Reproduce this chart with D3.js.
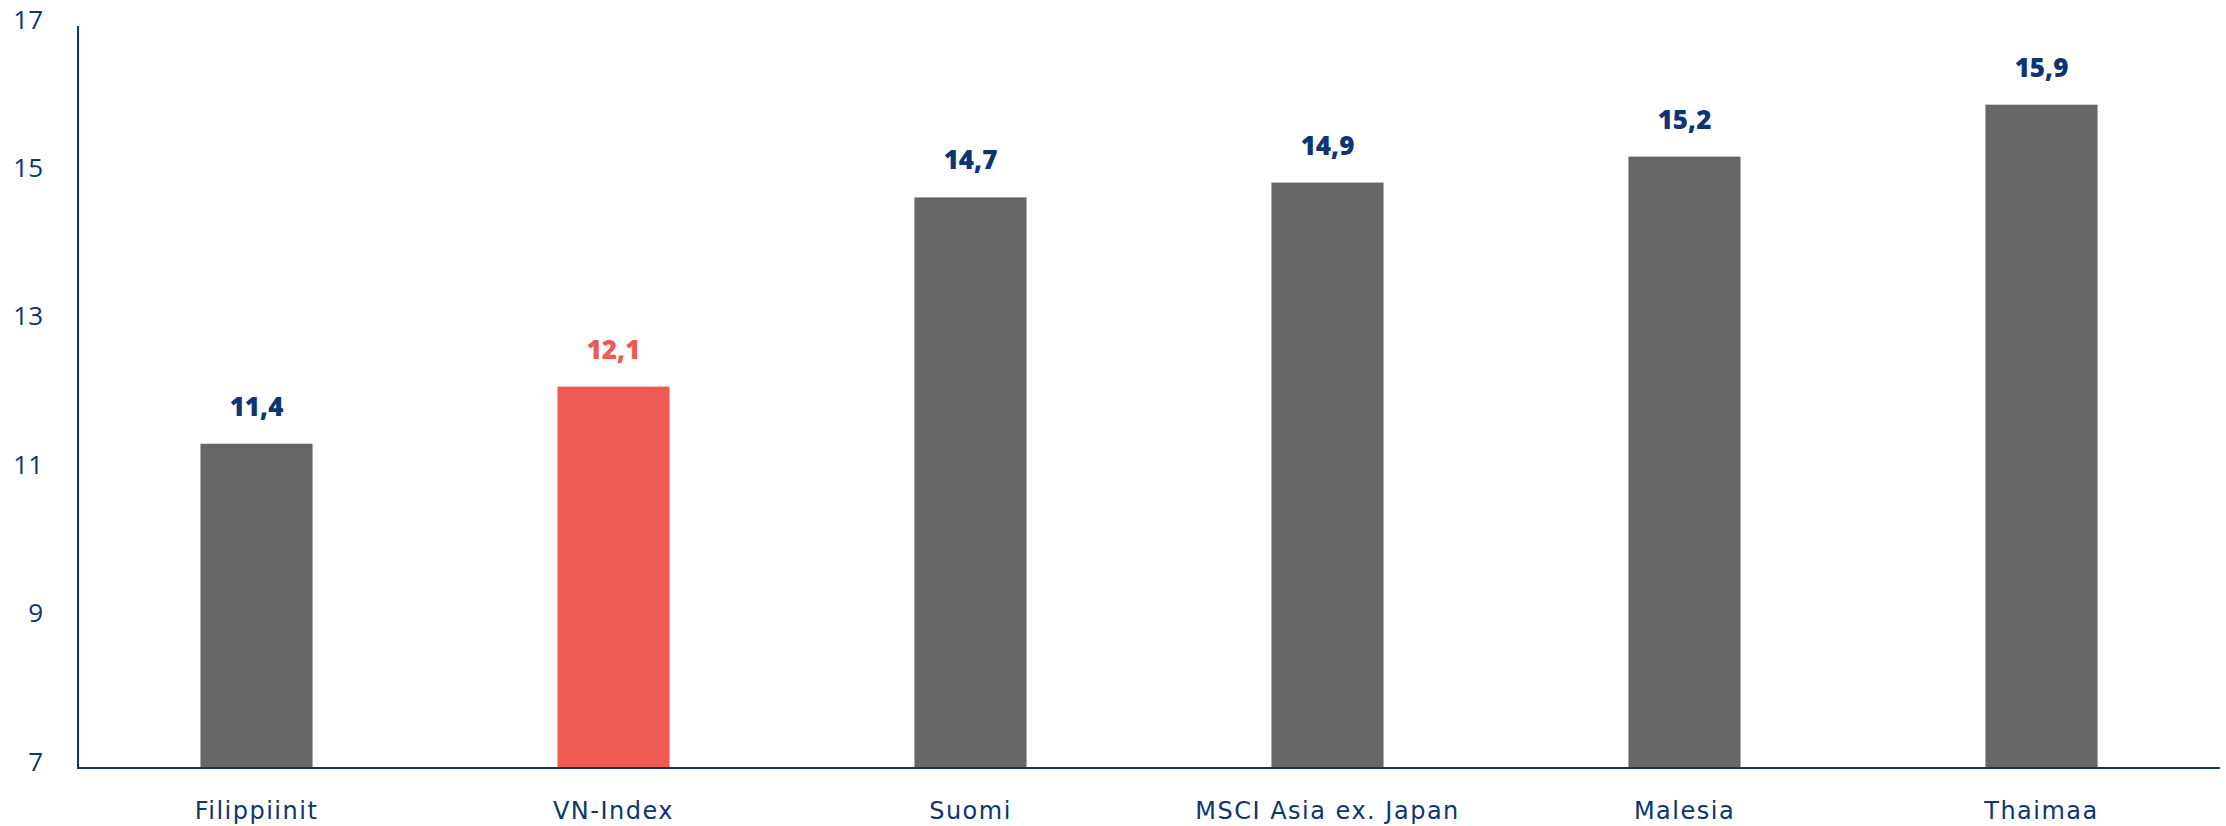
<!DOCTYPE html>
<html>
<head>
<meta charset="utf-8">
<script src="https://cdn.jsdelivr.net/npm/d3@7"></script>
<style>
  html, body { margin: 0; padding: 0; background: #fff; }
  svg { display: block; }
</style>
</head>
<body>
<svg id="chart" width="2226" height="826"></svg>
<script>
const categories = ["Filippiinit", "VN-Index", "Suomi", "MSCI Asia ex. Japan", "Malesia", "Thaimaa"];
const values = [11.37, 12.14, 14.69, 14.89, 15.24, 15.94];
const valueLabels = ["11,4", "12,1", "14,7", "14,9", "15,2", "15,9"];
const highlight = ["VN-Index"];
const yTicks = [7, 9, 11, 13, 15, 17];

const navy = "#0b3574";
const gray = "#666666";
const red = "#ef5b53";
const font = "'Open Sans', 'Noto Sans', sans-serif";
const catFont = "'DejaVu Sans', 'Open Sans', sans-serif";

const svg = d3.select("#chart");
const x0 = 78, x1 = 2220, yBase = 768, yTop = 26;

const x = d3.scaleBand().domain(categories).range([x0, x1])
  .paddingInner(0.686).paddingOuter(0.343);
const y = d3.scaleLinear().domain([7, 17]).range([yBase, yTop]);

// bars
svg.append("g").selectAll("rect")
  .data(categories)
  .join("rect")
  .attr("x", d => x(d))
  .attr("width", x.bandwidth())
  .attr("y", (d, i) => y(values[i]))
  .attr("height", (d, i) => y(7) - y(values[i]))
  .attr("fill", d => highlight.includes(d) ? red : gray);

// value labels
svg.append("g").selectAll("text")
  .data(categories)
  .join("text")
  .attr("x", d => x(d) + x.bandwidth() / 2)
  .attr("y", (d, i) => y(values[i]) - 28)
  .attr("text-anchor", "middle")
  .attr("font-family", font)
  .attr("font-weight", 800)
  .attr("font-size", 26)
  .attr("fill", d => highlight.includes(d) ? red : navy)
  .text((d, i) => valueLabels[i]);

// y axis
const yAxis = d3.axisLeft(y).tickValues(yTicks).tickSize(0).tickPadding(35);
const gy = svg.append("g").attr("transform", `translate(${x0},0)`).call(yAxis);
gy.select(".domain").attr("stroke", navy).attr("stroke-width", 2)
  .attr("d", `M0,${yBase}V${yTop}`);
gy.selectAll("text")
  .attr("font-family", font)
  .attr("font-size", 26)
  .attr("fill", navy)
  .attr("dy", 2);

// x axis
const xAxis = d3.axisBottom(x).tickSize(0).tickPadding(51);
const gx = svg.append("g").attr("transform", `translate(0,${yBase})`).call(xAxis);
gx.select(".domain").attr("stroke", navy).attr("stroke-width", 2)
  .attr("d", `M${x0 - 1},0H${x1}`);
gx.selectAll("text")
  .attr("font-family", catFont)
  .attr("font-size", 24)
  .attr("letter-spacing", 1.5)
  .attr("fill", navy)
  .attr("dy", 0);
</script>
</body>
</html>
